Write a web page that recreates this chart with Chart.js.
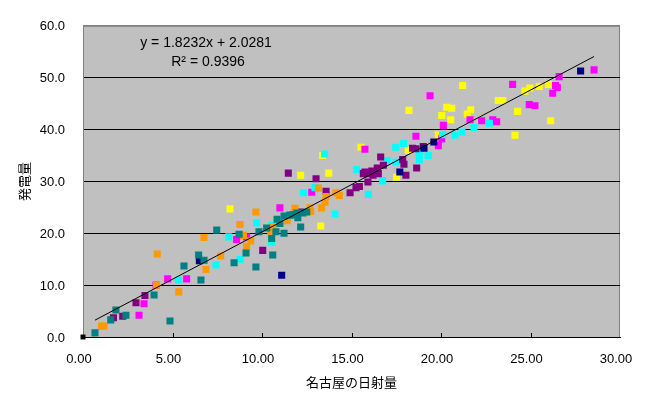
<!DOCTYPE html>
<html>
<head>
<meta charset="utf-8">
<script src="https://cdn.jsdelivr.net/npm/chart.js@4.4.1/dist/chart.umd.min.js"></script>
<style>
  html, body { margin: 0; padding: 0; background: #fff; }
  #wrap { width: 656px; height: 397px; }
</style>
</head>
<body>
<div id="wrap"><canvas id="c" width="656" height="397"></canvas></div>
<script>
// ── DATA (日射量 x, 発電量 y) ──
const teal = [[0.67,0.8],[1.55,3.3],[1.84,5.2],[2.4,4.2],[3.97,8.1],[4.86,3.1],[5.64,13.7],[6.59,11.0],[6.46,15.8],[6.76,14.8],
  [7.47,20.6],[8.44,14.3],[8.72,19.8],[9.11,16.2],[9.66,13.5],[9.83,20.3],[10.26,21.0],[10.54,19.0],[10.6,15.8],[10.78,20.3],
  [10.84,22.7],[11.0,21.9],[11.23,23.3],[11.23,20.0],[11.56,23.5],[11.94,23.9],[12.16,21.2],[12.29,23.9],[12.5,24.1],[11.75,23.6],[12.0,23.0]];
const navy = [[6.5,14.7],[11.1,11.9],[17.7,31.8],[19.05,36.4],[19.6,37.6],[27.8,51.3]];
const magenta = [[3.13,4.2],[3.41,6.4],[4.08,10.0],[4.73,11.2],[5.79,11.2],[8.58,18.8],[9.14,19.3],[11.0,24.9],[12.78,27.9],[15.75,36.2],
  [18.6,38.7],[19.39,46.5],[20.13,40.8],[20.04,38.2],[19.85,36.9],[21.62,41.9],[22.27,41.7],[22.89,41.9],[23.11,41.5],[24.0,48.7],
  [24.93,44.8],[25.25,44.6],[26.6,50.2],[26.4,48.5],[26.5,48.1],[26.24,47.0],[28.55,51.5]];
const yellow = [[8.21,24.7],[12.16,31.2],[13.28,21.4],[13.39,35.0],[13.73,31.6],[15.53,36.6],[17.52,30.8],[18.17,36.0],[18.21,43.7],[19.85,39.0],
  [20.04,42.7],[20.32,44.3],[20.6,44.1],[20.54,41.9],[21.47,43.0],[21.66,43.8],[21.21,48.5],[23.2,45.6],[23.45,45.6],[24.13,38.9],
  [24.28,43.5],[24.69,47.4],[24.97,48.0],[25.49,48.3],[26.0,48.7],[26.13,41.7]];
const cyan = [[5.33,11.0],[7.43,13.9],[8.14,19.3],[8.77,15.0],[9.7,22.0],[10.54,18.3],[10.54,21.5],[12.31,27.8],[12.96,28.8],[14.08,23.7],
  [15.29,32.3],[15.94,27.5],[16.74,30.1],[17.0,34.0],[17.49,33.7],[17.47,36.6],[17.9,37.3],[18.79,34.2],[18.79,35.4],[19.29,35.0],
  [20.09,39.0],[20.78,38.9],[21.17,39.5],[21.84,40.4],[22.7,41.2],[13.5,35.3]];
const purple = [[1.7,3.7],[2.22,4.0],[2.96,6.6],[3.46,8.0],[10.04,16.7],[12.12,24.1],[11.47,31.6],[13.02,30.5],[13.58,28.1],[14.92,27.8],
  [15.25,28.8],[15.44,29.0],[15.92,29.9],[15.75,31.8],[16.13,32.0],[16.44,32.6],[16.2,31.2],[16.5,31.5],[16.78,33.1],[16.63,34.7],
  [17.86,34.2],[17.93,33.3],[18.04,31.2],[18.64,32.6],[18.41,36.4],[18.6,36.3],[19.01,36.7],[15.88,31.5],[15.66,31.5]];
const orange = [[1.04,2.1],[1.17,2.1],[4.15,16.0],[4.11,10.0],[5.35,8.7],[6.87,13.0],[6.76,19.2],[7.69,15.6],[8.77,21.7],[9.66,24.1],
  [9.14,17.5],[9.37,18.5],[8.96,19.6],[10.49,20.4],[10.61,21.2],[11.41,22.4],[11.84,24.8],[12.68,24.9],[12.72,24.2],[13.15,28.7],
  [13.33,24.9],[13.52,26.0],[13.58,27.1],[14.32,27.3],[14.13,27.8]];
const origin = [[0, 0]];

// trendline from the picture's label
const slope = 1.8232;
const intercept = 2.0281;
const rSquared = 0.9396;

const xTicks = [0, 5, 10, 15, 20, 25, 30];
const yTicks = [0, 10, 20, 30, 40, 50, 60];

const toPts = arr => arr.map(p => ({ x: p[0], y: p[1] }));
const allX = [teal, navy, magenta, yellow, cyan, purple, orange].flat().map(p => p[0]);
const xMin = Math.min(...allX), xMax = Math.max(...allX);
const trend = [xMin, xMax].map(x => ({ x, y: slope * x + intercept }));

const TICK_FONT = { family: '"Liberation Sans", Arial, sans-serif', size: 13 };
const JP_FONT = { family: '"Noto Sans CJK JP", sans-serif', size: 13 };

// ── PLOT AREA / DECORATION ──
const plotDeco = {
  id: 'plotDeco',
  beforeDraw(chart) {
    const { ctx, chartArea: a } = chart;
    ctx.save();
    ctx.fillStyle = '#C0C0C0';
    ctx.fillRect(a.left, a.top, a.right - a.left, a.bottom - a.top);
    ctx.strokeStyle = '#808080';
    ctx.lineWidth = 1;
    ctx.strokeRect(a.left + 0.5, a.top + 0.5, a.right - a.left - 1, a.bottom - a.top);
    ctx.restore();
  },
  afterDraw(chart) {
    const { ctx, chartArea: a, scales } = chart;
    ctx.save();
    // inside tick marks on the x axis
    ctx.strokeStyle = '#000';
    ctx.lineWidth = 1;
    xTicks.slice(1, -1).forEach(v => {
      const px = Math.round(scales.x.getPixelForValue(v)) + 0.5;
      ctx.beginPath();
      ctx.moveTo(px, a.bottom);
      ctx.lineTo(px, a.bottom - 4);
      ctx.stroke();
    });
    // trendline label
    ctx.fillStyle = '#000';
    ctx.font = '14px "Liberation Sans", Arial, sans-serif';
    ctx.textAlign = 'center';
    ctx.textBaseline = 'middle';
    ctx.fillText(`y = ${slope.toFixed(4)}x + ${intercept.toFixed(4)}`, 206, 43);
    ctx.fillText(`R² = ${rSquared.toFixed(4)}`, 208, 62);
    ctx.restore();
  }
};

const sq = (data, color) => ({
  data: toPts(data),
  backgroundColor: color,
  borderWidth: 0,
  pointStyle: 'rect',
  pointRadius: 5,
  pointHoverRadius: 5,
});

new Chart(document.getElementById('c'), {
  type: 'scatter',
  data: {
    datasets: [
      { type: 'line', data: trend, borderColor: '#000', borderWidth: 1, pointRadius: 0, fill: false, order: -1 },
      { data: toPts(origin), backgroundColor: '#000', borderWidth: 0, pointStyle: 'rect', pointRadius: 3.5, clip: false, order: -2 },
      sq(teal, '#008080'),
      sq(orange, '#FF9900'),
      sq(navy, '#000080'),
      sq(purple, '#800080'),
      sq(cyan, '#00FFFF'),
      sq(magenta, '#FF00FF'),
      sq(yellow, '#FFFF00'),
    ],
  },
  options: {
    responsive: false,
    animation: false,
    events: [],
    layout: { padding: { left: 0, top: 25, right: 36, bottom: 0 } },
    plugins: { legend: { display: false }, tooltip: { enabled: false } },
    scales: {
      x: {
        type: 'linear', min: 0, max: 30,
        afterBuildTicks: s => { s.ticks = xTicks.map(v => ({ value: v })); },
        afterFit: s => { s.height = 60; },
        grid: { display: false, drawTicks: false },
        border: { display: true, color: '#000', width: 1 },
        ticks: { color: '#000', font: TICK_FONT, padding: 15, labelOffset: -4, maxRotation: 0, callback: v => v.toFixed(2) },
        title: { display: true, text: '名古屋の日射量', color: '#000', font: JP_FONT, padding: { top: 0, bottom: 7 } },
      },
      y: {
        type: 'linear', min: 0, max: 60,
        afterBuildTicks: s => { s.ticks = yTicks.map(v => ({ value: v })); },
        afterFit: s => { s.width = 83; },
        grid: { color: c => (c.tick && c.tick.value === 60 ? '#808080' : '#000'), lineWidth: 1, drawTicks: false },
        border: { display: true, color: '#808080', width: 1 },
        ticks: { color: '#000', font: TICK_FONT, padding: 18, labelOffset: 1, callback: v => v.toFixed(1) },
        title: { display: true, text: '発電量', color: '#000', font: JP_FONT, padding: { top: 16, bottom: 0 } },
      },
    },
  },
  plugins: [plotDeco],
});
</script>
</body>
</html>
